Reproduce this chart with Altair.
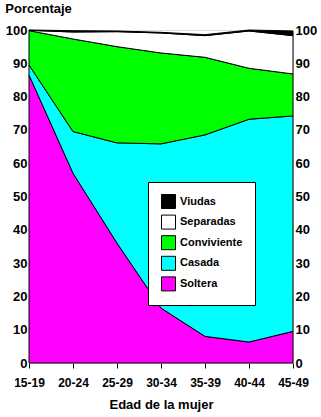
import altair as alt
import pandas as pd

ages = ["15-19", "20-24", "25-29", "30-34", "35-39", "40-44", "45-49"]
soltera = [86.5, 57.0, 36.0, 16.5, 8.0, 6.3, 9.5]
casada = [3.0, 12.5, 30.1, 49.3, 60.5, 66.9, 64.7]
conviviente = [10.3, 27.8, 28.9, 27.3, 23.3, 15.3, 12.6]
separadas = [0.1, 2.1, 4.5, 6.0, 6.5, 11.2, 11.5]
viudas = [0.1, 0.4, 0.2, 0.2, 0.3, 0.3, 1.4]

series_names = ["Soltera", "Casada", "Conviviente", "Separadas", "Viudas"]
series_vals = [soltera, casada, conviviente, separadas, viudas]
legend_order = ["Viudas", "Separadas", "Conviviente", "Casada", "Soltera"]
colors = ["#000000", "#FFFFFF", "#00FF00", "#00FFFF", "#FF00FF"]

rows = []
for k, (name, vals) in enumerate(zip(series_names, series_vals)):
    for a, v in zip(ages, vals):
        rows.append({"edad": a, "estado": name, "valor": v, "orden": k})
df = pd.DataFrame(rows)

FONT = "Liberation Sans"
yscale = alt.Scale(domain=[0, 100], nice=False, zero=True)
xenc = alt.X("edad:N", sort=ages,
             scale=alt.Scale(type="point", padding=0),
             axis=alt.Axis(title="Edad de la mujer", labelAngle=0, tickSize=5,
                           tickColor="black", labelPadding=9, domain=False,
                           labelFont=FONT, labelFontSize=12, labelFontWeight="bold",
                           labelColor="black", titleFont=FONT, titleFontSize=13,
                           titleFontWeight="bold", titleColor="black", titlePadding=10))

area = alt.Chart(df).mark_area(stroke="black", strokeWidth=1, opacity=1).encode(
    x=xenc,
    y=alt.Y("valor:Q", stack="zero", scale=yscale,
            axis=alt.Axis(orient="left", title=None, values=list(range(0, 101, 10)),
                          ticks=False, domain=False, grid=False, labelPadding=2,
                          labelFont=FONT, labelFontSize=13, labelFontWeight="bold",
                          labelColor="black")),
    color=alt.Color("estado:N",
                    scale=alt.Scale(domain=legend_order, range=colors),
                    legend=alt.Legend(title=None, orient="none", legendX=119, legendY=152,
                                      fillColor="white", strokeColor="black", padding=12,
                                      symbolType="square", symbolSize=196,
                                      symbolStrokeColor="black", symbolStrokeWidth=1,
                                      symbolOpacity=1, symbolOffset=1, rowPadding=1.6,
                                      labelOffset=4, labelFont=FONT, labelFontSize=11,
                                      labelFontWeight="bold", labelColor="black")),
    order=alt.Order("orden:Q"),
)

right = alt.Chart(df).mark_point(opacity=0).encode(
    x=alt.X("edad:N", sort=ages, scale=alt.Scale(type="point", padding=0)),
    y=alt.Y("valor:Q", scale=yscale,
            axis=alt.Axis(orient="right", title=None, values=list(range(0, 101, 10)),
                          ticks=False, domain=False, grid=False, labelPadding=2,
                          labelFont=FONT, labelFontSize=13, labelFontWeight="bold",
                          labelColor="black")),
)

chart = alt.layer(area, right).resolve_axis(y="independent").properties(
    width=264, height=333,
    autosize=alt.AutoSizeParams(type="none"),
    padding={"left": 29, "top": 30, "right": 28, "bottom": 54},
    title=alt.TitleParams("Porcentaje", anchor="start", font=FONT, fontSize=13,
                          fontWeight="bold", color="black", offset=8),
).configure_view(stroke="#000080", strokeWidth=2).configure(background="white")

chart.save("out.html", embed_options={"renderer": "svg", "actions": False})
